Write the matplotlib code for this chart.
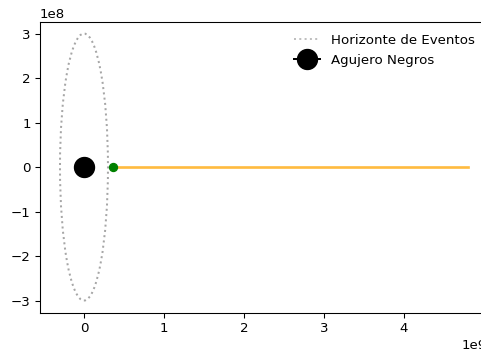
import matplotlib
matplotlib.use("Agg")
import matplotlib.pyplot as plt
from matplotlib.patches import Circle
from matplotlib.lines import Line2D

# horizonte de eventos (radio en metros)
r_horizonte = 3.0e8
centro = (0.0, 0.0)

# trayectoria de la particula
tray_x = [3.6e8, 4.8e9]
tray_y = [0.0, 0.0]

# posicion inicial
inicio_x = [3.6e8]
inicio_y = [0.0]

DPI = 96
fig = plt.figure(figsize=(481 / DPI, 356 / DPI), dpi=DPI)
ax = fig.add_axes([40 / 481, 43 / 356, 447 / 481, 291 / 356])

horizonte = Circle(centro, r_horizonte, fill=False, ls=':', lw=1.5,
                   edgecolor='gray', alpha=0.7)
ax.add_patch(horizonte)
ax.plot(tray_x, tray_y, color='orange', alpha=0.75, lw=2)
ax.plot(inicio_x, inicio_y, 'o', color='green')
bh, = ax.plot([centro[0]], [centro[1]], 'o-', color='black', ms=15,
              label='Agujero Negros')
ax.set_xlim(-0.55e9, 5.04e9)
ax.set_ylim(-3.28e8, 3.26e8)
ax.spines['right'].set_visible(False)

proxy = Line2D([], [], ls=':', lw=1.5, color='gray', alpha=0.5)
ax.legend([proxy, bh], ['Horizonte de Eventos', 'Agujero Negros'],
          loc='upper right', frameon=False)

fig.savefig("out.png", dpi=DPI)
